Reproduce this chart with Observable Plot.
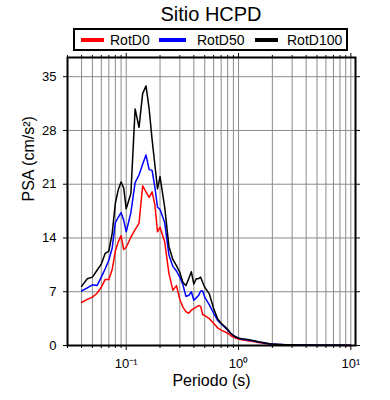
<!DOCTYPE html>
<html>
<head>
<meta charset="utf-8">
<script src="https://cdn.jsdelivr.net/npm/d3@7"></script>
<script src="https://cdn.jsdelivr.net/npm/@observablehq/plot@0.6"></script>
<style>
  body { margin: 0; background: #fff; font-family: "Liberation Sans", Arial, Helvetica, sans-serif; }
  #wrap { position: relative; width: 390px; height: 400px; }
  #title { position: absolute; left: 67px; width: 288px; top: 2px; text-align: center; font-size: 20px; line-height: 24px; color: #000; }
  #legend { position: absolute; left: 73px; top: 28px; width: 275px; height: 23px; border: 2px solid #000; box-sizing: border-box; background: #fff; z-index: 2; }
  .sw { position: absolute; top: 8px; height: 4px; width: 23px; }
  .lt { position: absolute; top: 1px; font-size: 14px; line-height: 18px; color: #000; }
  #plot { position: absolute; left: 0; top: 0; }
</style>
</head>
<body>
<div id="wrap">
  <div id="title">Sitio HCPD</div>
  <div id="legend"></div>
  <div id="plot"></div>
</div>
<script>
const periods = [0.04,0.045,0.05,0.055,0.06,0.065,0.07,0.075,0.08,0.085,0.09,0.095,
  0.1,0.11,0.12,0.13,0.14,0.15,0.16,0.17,0.18,0.19,0.2,
  0.22,0.24,0.26,0.28,0.3,0.32,0.34,0.36,0.38,0.4,0.42,0.44,0.46,0.48,0.5,
  0.55,0.6,0.65,0.7,0.75,0.8,0.85,0.9,0.95,1.0,
  1.1,1.2,1.3,1.4,1.5,1.6,1.7,1.8,1.9,2.0,
  2.2,2.4,2.6,2.8,3.0,
  3.5,4.0,4.5,5.0,
  6.0,7.0,8.0,9.0,10.0];

const rotD0 = [5.6,6.0,6.3,6.8,7.6,8.6,8.6,9.9,12.3,13.5,14.3,12.5,
  12.8,14.1,15.1,15.9,20.8,20.0,19.3,20.0,18.3,14.8,15.4,
  13.5,9.4,7.2,7.8,6.0,5.0,4.4,4.2,4.6,4.8,5.0,5.2,5.1,4.0,3.9,
  3.5,2.9,2.3,2.0,1.8,1.6,1.3,1.1,0.95,0.85,
  0.7,0.62,0.55,0.48,0.4,0.33,0.27,0.22,0.18,0.16,
  0.12,0.1,0.08,0.07,0.07,
  0.05,0.04,0.04,0.03,
  0.02,0.02,0.02,0.01,0.01];

const rotD50 = [7.1,7.5,7.9,7.8,8.9,10.0,11.1,12.7,16.0,16.7,17.3,16.3,
  14.8,17.3,21.2,22.2,23.6,24.8,22.9,22.8,20.6,18.0,17.7,
  16.0,11.8,10.3,9.7,8.9,7.9,6.4,6.5,7.0,5.9,6.2,6.5,7.1,7.1,6.3,
  5.3,4.2,3.3,2.8,2.4,2.0,1.6,1.3,1.1,0.95,
  0.8,0.72,0.64,0.55,0.45,0.38,0.31,0.25,0.2,0.18,
  0.14,0.12,0.1,0.09,0.08,
  0.06,0.05,0.04,0.04,
  0.03,0.02,0.02,0.02,0.01];

const rotD100 = [7.7,8.7,8.9,9.8,10.6,12.0,12.3,14.6,18.5,20.3,21.3,20.5,
  17.8,19.8,30.8,28.4,32.8,33.8,30.8,26.8,23.5,20.4,22.0,
  18.0,12.9,11.2,10.4,9.5,8.2,7.8,8.7,9.6,8.0,8.7,8.7,8.9,8.2,7.6,
  6.7,4.8,3.5,2.9,2.5,2.1,1.6,1.3,1.1,0.95,
  0.85,0.78,0.7,0.6,0.5,0.42,0.35,0.28,0.23,0.2,
  0.16,0.13,0.11,0.1,0.09,
  0.07,0.06,0.05,0.04,
  0.03,0.03,0.02,0.02,0.02];

const seriesNames = ["RotD0", "RotD50", "RotD100"];
const seriesColors = ["#ff0000", "#0000ff", "#000000"];
const seriesValues = [rotD0, rotD50, rotD100];

const yTicks = [0, 7, 14, 21, 28, 35];
const xMajor = [0.1, 1, 10];
const xMajorLabels = ["10\u207B\u00B9", "10\u2070", "10\u00B9"];
const xMinor = [0.03,0.04,0.05,0.06,0.07,0.08,0.09,0.2,0.3,0.4,0.5,0.6,0.7,0.8,0.9,2,3,4,5,6,7,8,9];
const xGrid = xMinor.concat(xMajor);

const title = "Sitio HCPD";
const xLabel = "Periodo (s)";
const yLabel = "PSA (cm/s\u00B2)";

// legend
const leg = document.getElementById("legend");
const swX = [6, 84, 180];
const txX = [35, 122, 212];
seriesNames.forEach((n, i) => {
  const s = document.createElement("div");
  s.className = "sw"; s.style.left = swX[i] + "px"; s.style.background = seriesColors[i];
  if (i === 1) s.style.width = "27px";
  leg.appendChild(s);
  const t = document.createElement("div");
  t.className = "lt"; t.style.left = txX[i] + "px"; t.textContent = n;
  leg.appendChild(t);
});

const data = [];
seriesNames.forEach((n, i) => {
  periods.forEach((p, j) => data.push({series: n, period: p, psa: seriesValues[i][j]}));
});

const fmt = d => xMajorLabels[xMajor.indexOf(d)] ?? "";

const lines = seriesNames.map((n, i) =>
  Plot.line(data.filter(d => d.series === n), {x: "period", y: "psa", stroke: seriesColors[i], strokeWidth: 1.5})
);

const chart = Plot.plot({
  width: 390,
  height: 400,
  marginLeft: 67,
  marginRight: 35,
  marginTop: 57,
  marginBottom: 55,
  style: {fontFamily: '"Liberation Sans", Arial, Helvetica, sans-serif', fontSize: "13px", color: "#000", background: "transparent"},
  x: {type: "log", domain: [0.03, 11], axis: null},
  y: {domain: [0, 37.5], axis: null},
  marks: [
    Plot.gridX(xGrid, {stroke: "#8c8c8c", strokeOpacity: 1, strokeWidth: 1}),
    Plot.gridY(yTicks.slice(1), {stroke: "#8c8c8c", strokeOpacity: 1, strokeWidth: 1}),
    ...lines,
    Plot.frame({stroke: "#000", strokeWidth: 2}),
    Plot.axisX(xMajor, {anchor: "bottom", tickSize: 5, tickPadding: 8, tickFormat: fmt, fontSize: 13, label: null}),
    Plot.axisX(xMinor, {anchor: "bottom", tickSize: 3, tickFormat: () => "", label: null}),
    Plot.axisX(xMajor, {anchor: "top", tickSize: 5, tickFormat: () => "", label: null}),
    Plot.axisX(xMinor, {anchor: "top", tickSize: 3, tickFormat: () => "", label: null}),
    Plot.axisY(yTicks, {anchor: "left", tickSize: 4, tickPadding: 7, fontSize: 13, label: null}),
    Plot.axisY(yTicks, {anchor: "right", tickSize: 4, tickFormat: () => "", label: null}),
    Plot.text([xLabel], {frameAnchor: "bottom", dy: 40, fontSize: 16, fill: "#000"}),
    Plot.text([yLabel], {frameAnchor: "left", dx: -39, rotate: -90, fontSize: 16, fill: "#000"})
  ]
});
document.getElementById("plot").appendChild(chart);
document.getElementById("title").textContent = title;
</script>
</body>
</html>
